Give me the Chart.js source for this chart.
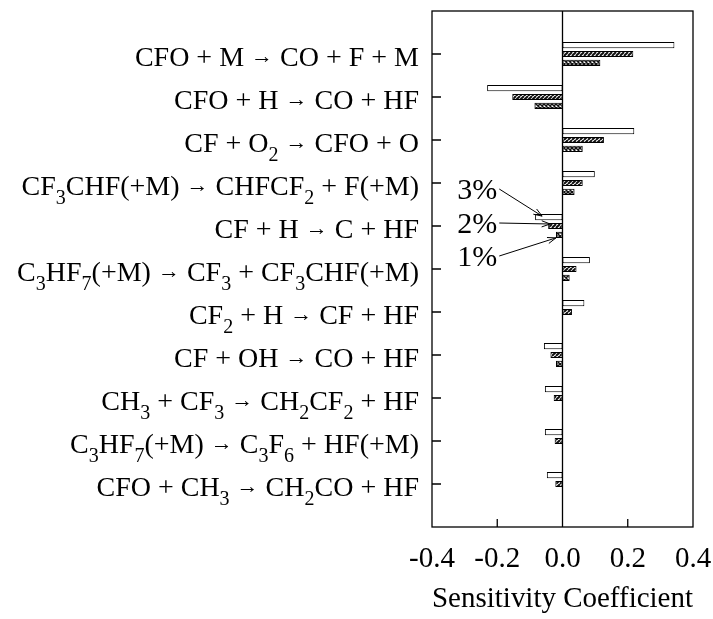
<!DOCTYPE html>
<html lang="en">
<head>
<meta charset="UTF-8">
<title>Sensitivity Coefficient</title>
<script src="https://cdn.jsdelivr.net/npm/chart.js"></script>
<style>
  * { margin: 0; padding: 0; box-sizing: border-box; }
  body { background: #fff; }
</style>
</head>
<body>
<canvas id="sens" width="713" height="619"></canvas>
<script>
// reactions, top to bottom; {n} marks a subscript
const reactions = [
  'CFO + M → CO + F + M',
  'CFO + H → CO + HF',
  'CF + O{2} → CFO + O',
  'CF{3}CHF(+M) → CHFCF{2} + F(+M)',
  'CF + H → C + HF',
  'C{3}HF{7}(+M) → CF{3} + CF{3}CHF(+M)',
  'CF{2} + H → CF + HF',
  'CF + OH → CO + HF',
  'CH{3} + CF{3} → CH{2}CF{2} + HF',
  'C{3}HF{7}(+M) → C{3}F{6} + HF(+M)',
  'CFO + CH{3} → CH{2}CO + HF'
];
const sens3 = [0.343, -0.231, 0.220, 0.099, -0.084, 0.084, 0.067, -0.057, -0.054, -0.054, -0.048];
const sens2 = [0.217, -0.154, 0.127, 0.062, -0.044, 0.043, 0.029, -0.037, -0.027, -0.024, -0.022];
const sens1 = [0.116, -0.086, 0.062, 0.037, -0.020, 0.022, null, -0.020, null, null, null];
const seriesNames = ['3%', '2%', '1%'];
const xTicks = [-0.4, -0.2, 0.0, 0.2, 0.4];
const calloutRow = 4; // CF + H -> C + HF carries the 3% / 2% / 1% labels

const serif = '"Liberation Serif", "Times New Roman", serif';

function makePattern(cross) {
  const c = document.createElement('canvas');
  c.width = 4; c.height = 4;
  const g = c.getContext('2d');
  g.fillStyle = '#fff';
  g.fillRect(0, 0, 4, 4);
  g.strokeStyle = '#111';
  g.lineWidth = cross ? 1.5 : 2;
  g.beginPath();
  for (let k = -4; k <= 8; k += 4) {
    g.moveTo(k, 4); g.lineTo(k + 4, 0);
    if (cross) { g.moveTo(k, 0); g.lineTo(k + 4, 4); }
  }
  g.stroke();
  return g.createPattern(c, 'repeat');
}

// padded with a blank slot at each end so the frame has room above and below
const labels = ['', ...reactions, ''];
const pad = arr => [null, ...arr, null];

function drawReaction(ctx, str, xRight, yBase) {
  const parts = [];
  str.replace(/\{(\d+)\}|(→)|([^{→]+)/g, (m, sub, arrow, txt) => {
    if (sub) parts.push({ t: sub, font: '20px ' + serif, dy: 9 });
    else if (arrow) parts.push({ t: '→', font: '22px ' + serif, dy: -3 });
    else parts.push({ t: txt, font: '28px ' + serif, dy: 0 });
  });
  let w = 0;
  parts.forEach(p => { ctx.font = p.font; p.w = ctx.measureText(p.t).width; w += p.w; });
  let x = xRight - w;
  parts.forEach(p => {
    ctx.font = p.font;
    ctx.fillText(p.t, x, yBase + p.dy);
    x += p.w;
  });
}

function arrow(ctx, x1, y1, x2, y2) {
  const a = Math.atan2(y2 - y1, x2 - x1);
  ctx.beginPath();
  ctx.moveTo(x1, y1); ctx.lineTo(x2, y2);
  ctx.moveTo(x2 - 9 * Math.cos(a - 0.35), y2 - 9 * Math.sin(a - 0.35));
  ctx.lineTo(x2, y2);
  ctx.lineTo(x2 - 9 * Math.cos(a + 0.35), y2 - 9 * Math.sin(a + 0.35));
  ctx.stroke();
}

const framePlugin = {
  id: 'frame',
  afterDraw(chart) {
    const ctx = chart.ctx;
    const { left, right, top, bottom } = chart.chartArea;
    const xs = chart.scales.x, ys = chart.scales.y;
    ctx.save();
    ctx.strokeStyle = '#000';
    ctx.lineWidth = 1.3;
    ctx.strokeRect(left, top, right - left, bottom - top);
    const x0 = xs.getPixelForValue(0);
    ctx.beginPath();
    ctx.moveTo(x0, top); ctx.lineTo(x0, bottom);
    for (let i = 1; i <= reactions.length; i++) {
      const y = ys.getPixelForValue(i);
      ctx.moveTo(left, y); ctx.lineTo(left + 9, y);
    }
    xTicks.slice(1, -1).forEach(v => {
      const x = xs.getPixelForValue(v);
      ctx.moveTo(x, bottom); ctx.lineTo(x, bottom - 8);
    });
    ctx.stroke();

    // reaction labels
    ctx.fillStyle = '#000';
    ctx.textAlign = 'left';
    ctx.textBaseline = 'alphabetic';
    reactions.forEach((r, i) => {
      drawReaction(ctx, r, left - 13, ys.getPixelForValue(i + 1) + 12);
    });

    // 3% / 2% / 1% callouts
    const rowY = ys.getPixelForValue(calloutRow + 1);
    const textRight = xs.getPixelForValue(-0.2);
    const offs = [-27, 7, 40];
    const tipDx = [7, 2, 0], tipDy = [-1, -2, 3];
    ctx.font = '30px ' + serif;
    ctx.textAlign = 'right';
    ctx.lineWidth = 1;
    seriesNames.forEach((name, i) => {
      const yb = rowY + offs[i];
      ctx.fillText(name, textRight, yb);
      const bar = chart.getDatasetMeta(i).data[calloutRow + 1];
      arrow(ctx, textRight + 2, yb - 10, bar.x + tipDx[i], bar.y + tipDy[i]);
    });
    ctx.restore();
  }
};

new Chart(document.getElementById('sens'), {
  type: 'bar',
  data: {
    labels: labels,
    datasets: [
      { label: seriesNames[0], data: pad(sens3), backgroundColor: '#fff' },
      { label: seriesNames[1], data: pad(sens2), backgroundColor: makePattern(false) },
      { label: seriesNames[2], data: pad(sens1), backgroundColor: makePattern(true) }
    ]
  },
  options: {
    indexAxis: 'y',
    responsive: false,
    animation: false,
    layout: { padding: { left: 432, right: 20, top: 11, bottom: 5 } },
    datasets: {
      bar: {
        borderColor: '#000',
        borderWidth: 1,
        borderSkipped: false,
        categoryPercentage: 0.62,
        barPercentage: 0.68
      }
    },
    plugins: { legend: { display: false }, tooltip: { enabled: false } },
    scales: {
      x: {
        type: 'linear',
        min: -0.4,
        max: 0.4,
        afterBuildTicks: s => { s.ticks = xTicks.map(v => ({ value: v })); },
        // the end labels may hang over the frame, as in the original figure
        afterFit: s => { s.paddingLeft = 0; s.paddingRight = 0; },
        ticks: {
          padding: 10,
          color: '#000',
          font: { family: serif, size: 29, lineHeight: 1 },
          callback: v => (Math.abs(v) < 1e-9 ? 0 : v).toFixed(1)
        },
        grid: { display: false },
        border: { display: false },
        title: {
          display: true,
          text: 'Sensitivity Coefficient',
          color: '#000',
          font: { family: serif, size: 30, lineHeight: 1 },
          padding: { top: 0, bottom: 0 }
        }
      },
      y: { type: 'category', offset: false, display: false }
    }
  },
  plugins: [framePlugin]
});
</script>
</body>
</html>
